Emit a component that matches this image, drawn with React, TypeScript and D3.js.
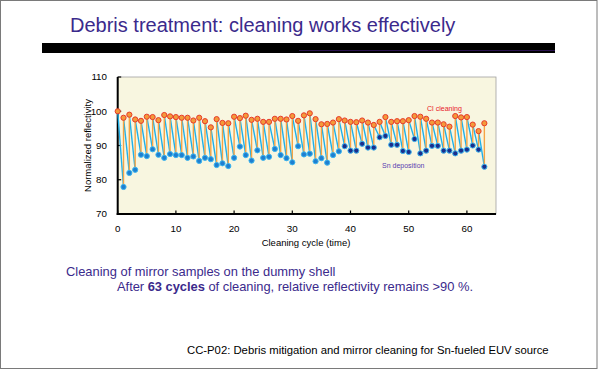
import React from "react";
import * as d3 from "d3";

const W = 600;
const H = 370;

const titleText = "Debris treatment: cleaning works effectively";
const yTicks = [70, 80, 90, 100, 110];
const xTicks = [0, 10, 20, 30, 40, 50, 60];

// Cl cleaning (after cleaning) values, cycle 0..63
const clValues = [
  100, 98.1, 99.0, 97.6, 97.2, 98.4, 98.3, 97.4, 98.9, 98.5,
  98.3, 98.1, 98.1, 97.3, 98.1, 97.1, 95.3, 97.7, 96.6, 96.5,
  98.4, 98.0, 98.7, 97.5, 97.8, 96.9, 96.9, 97.8, 97.8, 97.6,
  98.6, 97.2, 98.8, 99.4, 97.7, 96.2, 96.3, 96.7, 97.7, 97.3,
  96.9, 96.8, 97.3, 96.7, 96.0, 96.9, 98.3, 96.9, 97.1, 97.1,
  97.4, 98.6, 98.4, 97.8, 96.7, 96.7, 96.2, 95.5, 98.6, 98.2,
  98.3, 96.1, 94.2, 96.5,
];

// Sn deposition values, cycle 1..63
const snValues = [
  77.9, 82.0, 82.9, 87.3, 86.9, 88.9, 87.3, 86.4, 87.5, 87.2,
  87.2, 86.4, 86.8, 85.5, 86.4, 86.0, 84.3, 84.8, 84.0, 86.4,
  89.7, 87.2, 85.6, 88.6, 86.4, 86.7, 89.0, 87.2, 86.3, 85.1,
  89.8, 87.4, 87.6, 85.4, 86.3, 85.0, 87.2, 88.3, 89.8, 88.5,
  88.5, 90.5, 89.4, 89.4, 92.4, 92.8, 90.2, 90.2, 88.4, 88.1,
  91.9, 87.7, 88.5, 89.9, 89.9, 88.5, 88.5, 87.7, 88.5, 88.8,
  90.0, 88.8, 83.8,
];

const FONT = "'Liberation Sans', Arial, Helvetica, sans-serif";

export default function App() {
  const left = 117.7;
  const right = 496;
  const top = 77;
  const bottom = 214;

  const x = d3.scaleLinear().domain([0, 65]).range([left, right]);
  const y = d3.scaleLinear().domain([70, 110]).range([bottom, top]);

  const blueSegs = snValues.map((v, k) => {
    const i = k + 1;
    return { x1: x(i - 1), y1: y(clValues[i - 1]), x2: x(i), y2: y(v) };
  });
  const orangeSegs = snValues.map((v, k) => {
    const i = k + 1;
    return { x1: x(i), y1: y(v), x2: x(i), y2: y(clValues[i]) };
  });

  return (
    <svg
      width={W}
      height={H}
      style={{ position: "absolute", left: 0, top: 0, background: "#fff" }}
      fontFamily={FONT}
    >
      <rect x={0.5} y={0.5} width={596.5} height={368} fill="#fff" stroke="#7a7a7a" strokeWidth={1} />

      {/* title */}
      <text x={70} y={32} fontSize={20} fill="#3b2a8c">
        {titleText}
      </text>
      <rect x={42} y={43} width={513} height={10} fill="#000" />
      <line x1={299} x2={555} y1={50.5} y2={50.5} stroke="#2a1250" strokeWidth={1} />

      {/* plot background */}
      <rect x={left} y={top} width={right - left} height={bottom - top} fill="#f8f6e0" stroke="#a0a0a0" strokeWidth={0.8} />

      {/* y ticks */}
      {yTicks.map((t) => (
        <g key={"y" + t}>
          <line x1={left} x2={left + 3.5} y1={y(t)} y2={y(t)} stroke="#000" strokeWidth={1.2} />
          <text x={107} y={y(t) + 3.4} fontSize={9.8} textAnchor="end" fill="#000">
            {t}
          </text>
        </g>
      ))}
      {/* x ticks */}
      {xTicks.map((t) => (
        <g key={"x" + t}>
          <line x1={x(t)} x2={x(t)} y1={bottom} y2={bottom - 3.5} stroke="#000" strokeWidth={1.2} />
          <text x={x(t)} y={232} fontSize={9.8} textAnchor="middle" fill="#000">
            {t}
          </text>
        </g>
      ))}
      <line x1={left} x2={left} y1={top} y2={bottom + 1} stroke="#000" strokeWidth={2} />
      <line x1={left - 1} x2={right} y1={bottom} y2={bottom} stroke="#000" strokeWidth={2} />

      <text x={306} y={246} fontSize={9.5} textAnchor="middle" fill="#000">
        Cleaning cycle (time)
      </text>
      <text
        transform={`translate(91,${(top + bottom) / 2}) rotate(-90)`}
        fontSize={9.5}
        textAnchor="middle"
        fill="#000"
      >
        Normalized reflectivity
      </text>

      {/* lines */}
      {blueSegs.map((s, i) => (
        <line key={"b" + i} x1={s.x1} y1={s.y1} x2={s.x2} y2={s.y2} stroke="#1fb0ea" strokeWidth={1.4} />
      ))}
      {orangeSegs.map((s, i) => (
        <line key={"o" + i} x1={s.x1} y1={s.y1} x2={s.x2} y2={s.y2} stroke="#f5a445" strokeWidth={1.4} />
      ))}

      {/* markers */}
      {snValues.map((v, k) => (
        <circle
          key={"sn" + k}
          cx={x(k + 1)}
          cy={y(v)}
          r={2.6}
          fill={k + 1 >= 39 ? "#1a2e8c" : "#1f7fd0"}
          stroke="#3cb6f0"
          strokeWidth={1}
        />
      ))}
      {clValues.map((v, i) => (
        <circle key={"cl" + i} cx={x(i)} cy={y(v)} r={2.6} fill="#f39a3a" stroke="#e83a2a" strokeWidth={1} />
      ))}

      {/* legend labels */}
      <text x={427} y={111} fontSize={7} fill="#e8202a" textLength={35} lengthAdjust="spacingAndGlyphs">
        Cl cleaning
      </text>
      <text x={382} y={168} fontSize={7} fill="#5840b0">
        Sn deposition
      </text>

      {/* captions */}
      <text x={66} y={275.5} fontSize={12.9} fill="#3b2a8c">
        Cleaning of mirror samples on the dummy shell
      </text>
      <text x={117} y={291} fontSize={12.9} fill="#3b2a8c" textLength={356} lengthAdjust="spacing">
        After <tspan fontWeight="bold">63 cycles</tspan> of cleaning, relative reflectivity remains &gt;90 %.
      </text>

      <text x={187} y={354} fontSize={11.3} fill="#000">
        CC-P02: Debris mitigation and mirror cleaning for Sn-fueled EUV source
      </text>
    </svg>
  );
}
